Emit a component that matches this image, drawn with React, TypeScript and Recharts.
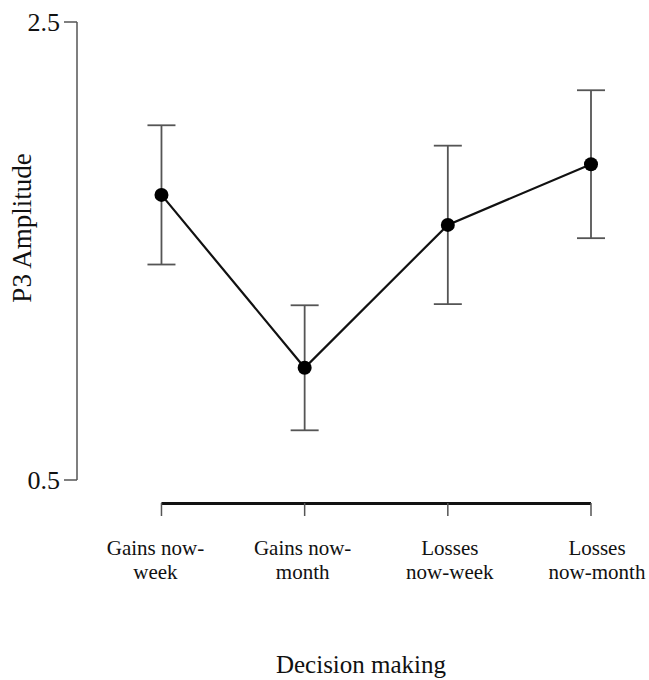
import {
  ErrorBar,
  Label,
  Line,
  LineChart,
  ReferenceLine,
  XAxis,
  YAxis,
} from "recharts";

// Decision-making conditions, split where the label wraps
const conditions = [
  ["Gains now-", "week"],
  ["Gains now-", "month"],
  ["Losses", "now-week"],
  ["Losses", "now-month"],
];
const meanAmplitude = [1.745, 0.99, 1.614, 1.879];
const errorAmplitude = [0.304, 0.273, 0.346, 0.323];
const yTicks = [0.5, 2.5];

const FONT = "'Liberation Serif', 'Times New Roman', serif";

const data = conditions.map((label, i) => ({
  pos: i,
  label,
  mean: meanAmplitude[i],
  err: errorAmplitude[i],
}));

function ConditionTick(props: any) {
  const { x, y, payload } = props;
  const lines = conditions[payload.value] ?? [];
  // labels fan out a little from their tick marks
  const tx = x + (payload.value - 1.5) * 4;
  return (
    <g>
      <line x1={x} y1={y + 23} x2={x} y2={y + 36} stroke="#555" strokeWidth={1.5} />
      <text
        x={tx}
        y={y + 75}
        textAnchor="middle"
        fontFamily={FONT}
        fontSize={21}
        fill="#111"
      >
        {lines.map((t, k) => (
          <tspan key={k} x={tx} dy={k === 0 ? 0 : 24}>
            {t}
          </tspan>
        ))}
      </text>
    </g>
  );
}

export default function App() {
  return (
    <div style={{ position: "absolute", left: 0, top: 0, width: 649, height: 680, background: "#fff" }}>
      <LineChart
        width={649}
        height={680}
        data={data}
        margin={{ top: 22, right: 58, left: 0, bottom: 0 }}
      >
        <XAxis
          type="number"
          dataKey="pos"
          domain={[-0.59, 3]}
          ticks={[0, 1, 2, 3]}
          interval={0}
          axisLine={false}
          tickLine={false}
          tickSize={0}
          tickMargin={0}
          height={200}
          tick={<ConditionTick />}
        >
          <Label
            content={({ viewBox }: any) => (
              <text
                x={viewBox.x + 284}
                y={viewBox.y + 193}
                textAnchor="middle"
                fontFamily={FONT}
                fontSize={25}
                fill="#111"
              >
                Decision making
              </text>
            )}
          />
        </XAxis>
        <YAxis
          type="number"
          domain={[0.5, 2.5]}
          ticks={yTicks}
          width={77}
          tickSize={13}
          tickMargin={4}
          axisLine={{ stroke: "#555", strokeWidth: 1.5 }}
          tickLine={{ stroke: "#555", strokeWidth: 1.5 }}
          tick={{ fontFamily: FONT, fontSize: 26, fill: "#111" }}
        >
          <Label
            content={({ viewBox }: any) => (
              <text
                x={viewBox.x + 22}
                y={viewBox.y + 206}
                transform={`rotate(-90 ${viewBox.x + 22} ${viewBox.y + 206})`}
                textAnchor="middle"
                dominantBaseline="central"
                fontFamily={FONT}
                fontSize={27}
                fill="#111"
              >
                P3 Amplitude
              </text>
            )}
          />
        </YAxis>
        {/* detached x axis line spanning the four conditions */}
        <ReferenceLine
          segment={[
            { x: 0, y: 0.397 },
            { x: 3, y: 0.397 },
          ]}
          ifOverflow="visible"
          stroke="#111"
          strokeWidth={3}
        />
        <Line
          type="linear"
          dataKey="mean"
          stroke="#111"
          strokeWidth={2.2}
          dot={{ r: 7, fill: "#000", stroke: "none" }}
          activeDot={false}
          isAnimationActive={false}
        >
          <ErrorBar
            dataKey="err"
            direction="y"
            width={14}
            stroke="#555"
            strokeWidth={1.8}
            isAnimationActive={false}
          />
        </Line>
      </LineChart>
    </div>
  );
}
